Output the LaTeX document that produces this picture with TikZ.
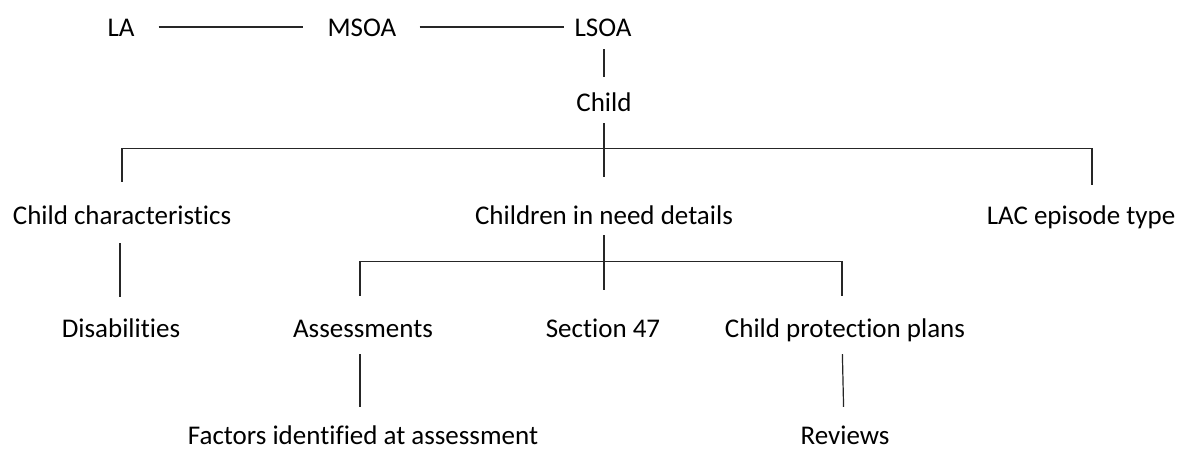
\documentclass[tikz,border=0pt]{standalone}
\usepackage{fontspec}
\setmainfont{Carlito}[Ligatures=NoCommon]
\usetikzlibrary{calc}
\begin{document}
\begin{tikzpicture}[x=1pt,y=-1pt,
  lbl/.style={inner sep=0pt,anchor=base,text height=18pt,text depth=0pt,font=\fontsize{27}{32}\selectfont},
  conn/.style={line width=1.2pt,draw=black!85}]
\useasboundingbox[fill=white] (0,0) rectangle (1182,451);
% nodes
\node[lbl] (la) at (121,36) {LA};
\node[lbl] (msoa) at (362,36) {MSOA};
\node[lbl] (lsoa) at (603,36) {LSOA};
\node[lbl] (child) at (604,111) {Child};
\node[lbl] (cc) at (122,224) {Child characteristics};
\node[lbl] (cin) at (604,224) {Children in need details};
\node[lbl] (lac) at (1081,224) {LAC episode type};
\node[lbl] (dis) at (121,337) {Disabilities};
\node[lbl] (assess) at (363,337) {Assessments};
\node[lbl] (sec) at (603,337) {Section 47};
\node[lbl] (cpp) at (845,337) {Child protection plans};
\node[lbl] (fac) at (363,444) {Factors identified at assessment};
\node[lbl] (rev) at (845,444) {Reviews};
% connectors
\draw[conn,shorten <=24pt,shorten >=24pt] (la.east) -- (msoa.west);
\draw[conn,shorten <=23pt,shorten >=10pt] (msoa.east) -- (lsoa.west);
\draw[conn,shorten <=13pt,shorten >=16pt] ([xshift=1pt]lsoa.south) -- (child.north);
\draw[conn,shorten <=12pt,shorten >=29pt] (child.south) -- (cin.north);
\draw[conn] ([yshift=24pt]cc.north) -- ++(0,-33) -| ([xshift=11pt,yshift=21pt]lac.north);
\draw[conn,shorten <=19pt,shorten >=22pt] ([xshift=-2pt]cc.south) -- ([xshift=-1pt]dis.north);
\draw[conn,shorten <=11pt,shorten >=29pt] (cin.south) -- ([xshift=1pt]sec.north);
\draw[conn] ([xshift=-3pt,yshift=23pt]assess.north) -- ++(0,-34) -| ([xshift=-3pt,yshift=23pt]cpp.north);
\draw[conn,shorten <=17pt,shorten >=19pt] ([xshift=-3pt]assess.south) -- ([xshift=-3pt]fac.north);
\draw[conn,shorten <=17pt,shorten >=19pt] ([xshift=-3pt]cpp.south) -- ([xshift=-1pt]rev.north);
\end{tikzpicture}
\end{document}
